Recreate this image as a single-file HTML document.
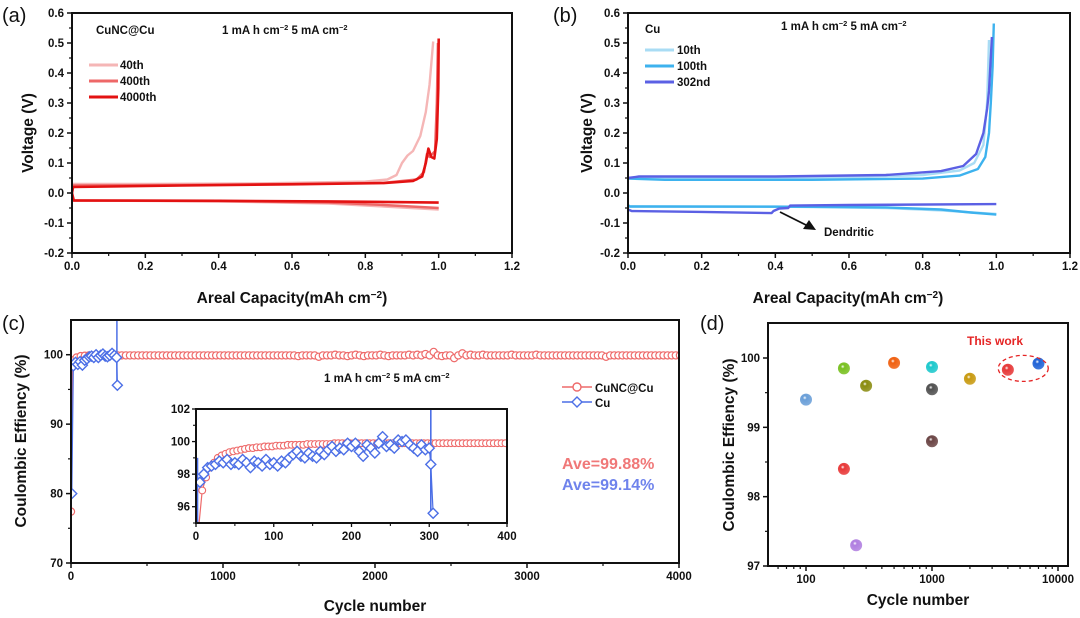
<!DOCTYPE html>
<html><head><meta charset="utf-8">
<style>
html,body{margin:0;padding:0;background:#fff;}
svg{display:block;font-family:"Liberation Sans",Arial,sans-serif;}
.t{font-weight:bold;font-size:11.5px;fill:#111;}
.ax{font-weight:bold;font-size:15.5px;fill:#111;}
.pl{font-size:20px;fill:#111;}
</style></head>
<body>
<svg id="fig" width="1080" height="618" viewBox="0 0 1080 618">
<defs id="defs"></defs>
</svg>
<script>
// ---------- data ----------
const aXTicks=[0,0.2,0.4,0.6,0.8,1.0,1.2];
const aXLabels=["0.0","0.2","0.4","0.6","0.8","1.0","1.2"];
const aYTicks=[-0.2,-0.1,0,0.1,0.2,0.3,0.4,0.5,0.6];
const aYLabels=["-0.2","-0.1","0.0","0.1","0.2","0.3","0.4","0.5","0.6"];
// panel a: CuNC@Cu  [capacity, voltage]
const a40Charge=[[0,0.03],[0.2,0.03],[0.5,0.032],[0.8,0.038],[0.86,0.045],[0.885,0.06],[0.9,0.1],[0.915,0.125],[0.93,0.14],[0.95,0.19],[0.965,0.27],[0.975,0.36],[0.985,0.505]];
const a400Charge=[[0,0.025],[0.3,0.027],[0.6,0.03],[0.85,0.034],[0.94,0.045],[0.96,0.07],[0.968,0.13],[0.975,0.12],[0.99,0.14],[0.995,0.3],[0.998,0.5]];
const a4000Charge=[[0,0],[0.003,0.02],[0.3,0.025],[0.6,0.029],[0.85,0.033],[0.93,0.04],[0.955,0.055],[0.965,0.1],[0.972,0.148],[0.98,0.12],[0.988,0.115],[0.995,0.18],[0.999,0.35],[1.0,0.515]];
const a40Dis=[[0,-0.025],[0.4,-0.028],[0.7,-0.035],[0.85,-0.045],[1.0,-0.055]];
const a400Dis=[[0,-0.025],[0.4,-0.027],[0.7,-0.032],[0.85,-0.04],[1.0,-0.05]];
const a4000Dis=[[0,0],[0.005,-0.025],[0.4,-0.026],[0.7,-0.028],[1.0,-0.032]];
// panel b: Cu
const b10Charge=[[0,0.05],[0.3,0.05],[0.6,0.052],[0.8,0.06],[0.9,0.075],[0.94,0.1],[0.965,0.16],[0.975,0.3],[0.98,0.51]];
const b100Charge=[[0,0.048],[0.1,0.044],[0.5,0.044],[0.8,0.048],[0.9,0.058],[0.95,0.08],[0.97,0.12],[0.98,0.2],[0.985,0.3],[0.99,0.42],[0.993,0.565]];
const b302Charge=[[0,0.05],[0.03,0.055],[0.4,0.055],[0.7,0.06],[0.85,0.073],[0.91,0.09],[0.945,0.13],[0.965,0.2],[0.975,0.28],[0.98,0.34],[0.988,0.52]];
const b10Dis=[[0,-0.045],[0.4,-0.045],[0.7,-0.05],[0.85,-0.058],[1.0,-0.07]];
const b100Dis=[[0,-0.04],[0.005,-0.045],[0.5,-0.046],[0.7,-0.048],[0.85,-0.055],[0.93,-0.065],[1.0,-0.072]];
const b302Dis=[[0,-0.055],[0.01,-0.06],[0.2,-0.063],[0.39,-0.067],[0.395,-0.06],[0.41,-0.052],[0.435,-0.05],[0.44,-0.042],[0.6,-0.04],[1.0,-0.037]];
// panel c: coulombic efficiency
const cXTicks=[0,1000,2000,3000,4000];
const cYTicks=[70,80,90,100];
const cnFirst=[0,77.4];
const cnStep=27;
const cnMain=[99.2,99.6,99.8,99.85,99.9,99.9,99.9,99.9,99.9,99.9,99.9,99.9,99.9,99.9,99.9,99.9,99.9,99.9,99.9,99.9,99.9,99.9,99.9,99.9,99.9,99.9,99.9,99.9,99.9,99.9,99.9,99.9,99.9,99.9,99.9,99.9,99.9,99.9,99.9,99.9,99.9,99.9,99.9,99.9,99.9,99.9,99.9,99.9,99.9,99.9,99.9,99.9,99.9,99.9,99.9,99.8,99.9,99.9,99.9,99.9,99.7,99.9,99.9,99.9,100.0,99.9,99.9,99.8,99.9,100.0,99.9,99.8,99.9,99.9,99.9,100.0,99.9,99.8,99.9,99.9,99.9,99.9,100.0,99.9,100.0,99.9,100.1,99.9,100.4,99.9,99.8,99.9,99.9,99.5,99.9,100.2,99.9,100.0,99.9,99.9,100.0,99.9,99.9,99.9,99.9,99.9,99.9,100.0,99.9,99.9,99.9,99.9,99.9,100.0,99.9,99.9,99.9,99.9,99.9,99.9,99.9,99.9,99.9,99.9,99.9,99.9,99.9,99.9,99.9,99.9,99.7,99.9,99.9,99.9,99.9,99.9,99.9,99.9,99.9,99.9,99.9,99.9,99.9,99.9,99.9,99.9,99.9,99.9,99.9,99.9,99.9];
const cuMainCycles=[5,15,30,45,60,75,90,105,120,135,150,165,180,195,210,225,240,255,270,285,300,305];
const cuMainCE=[80.0,98.4,98.9,98.6,99.0,98.5,99.2,99.4,99.7,99.8,99.6,100.0,99.6,99.9,100.1,99.8,99.7,99.9,100.2,99.9,99.6,95.6];
const inXTicks=[0,100,200,300,400];
const inYTicks=[96,98,100,102];
const inCnStep=5;
const inCn=[94.5,97.0,97.8,98.4,98.7,99.0,99.15,99.25,99.35,99.4,99.45,99.5,99.55,99.6,99.6,99.65,99.65,99.7,99.7,99.7,99.75,99.75,99.75,99.8,99.8,99.8,99.8,99.8,99.85,99.85,99.85,99.85,99.85,99.85,99.85,99.9,99.9,99.9,99.9,99.9,99.9,99.9,99.9,99.9,99.9,99.9,99.9,99.9,99.9,99.9,99.9,99.9,99.9,99.9,99.9,99.9,99.9,99.9,99.9,99.9,99.9,99.9,99.9,99.9,99.9,99.9,99.9,99.9,99.9,99.9,99.9,99.9,99.9,99.9,99.9,99.9,99.9,99.9,99.9,99.9];
const inCuCycles=[5,10,15,20,25,30,35,40,45,50,55,60,65,70,75,80,85,90,95,100,105,110,115,120,125,130,135,140,145,150,155,160,165,170,175,180,185,190,195,200,205,210,215,220,225,230,235,240,245,250,255,260,265,270,275,280,285,290,295,300,302,305];
const inCuCE=[97.5,98.0,98.4,98.5,98.6,98.8,98.7,98.9,98.6,98.7,98.6,98.9,98.7,98.4,98.8,98.7,98.5,98.9,98.6,98.7,98.5,98.8,98.7,99.0,99.2,99.4,99.1,99.0,99.3,99.1,99.0,99.4,99.2,99.5,99.7,99.4,99.6,99.5,99.9,99.7,99.9,99.4,99.1,99.8,99.6,99.3,99.9,100.3,99.7,99.8,99.6,100.1,100.0,100.1,99.8,99.6,99.4,99.8,99.5,99.6,98.6,95.6];
// panel d
const dXTicks=[100,1000,10000];
const dYTicks=[97,98,99,100];
const dCycles=[100,200,200,250,300,500,1000,1000,1000,2000,4000,7000];
const dCE=[99.4,99.85,98.4,97.3,99.6,99.93,99.87,99.55,98.8,99.7,99.83,99.92];
const dColors=["#6a9fd8","#78c020","#e83838","#b07ee0","#8a8c10","#f06010","#1cc8cc","#505050","#6a4444","#c89a10","#e63838","#1f62d6"];

// ---------- helpers ----------
const NS="http://www.w3.org/2000/svg";
const svg=document.getElementById('fig');
function mk(tag,attrs,parent){const e=document.createElementNS(NS,tag);for(const k in attrs)e.setAttribute(k,attrs[k]);(parent||svg).appendChild(e);return e;}
function lin(d0,d1,r0,r1){return v=>r0+(v-d0)*(r1-r0)/(d1-d0);}
function txt(x,y,s,cls,anchor,parent){const e=mk('text',{x:x,y:y,class:cls,'text-anchor':anchor||'start'},parent);e.textContent=s;return e;}

function frame(name,L,T,R,B,g){
  const r=mk('rect',{x:L,y:T,width:R-L,height:B-T,fill:'none',stroke:'#111','stroke-width':2},g);
  
  
}
function xTicks(g,sx,ticks,labels,B,minors,name){
  ticks.forEach((v,i)=>{
    mk('line',{x1:sx(v),x2:sx(v),y1:B,y2:B+5,stroke:'#111','stroke-width':1.5},g);
    const t=txt(sx(v),B+17,labels[i],'t','middle',g);
    
    
  });
  minors.forEach(v=>mk('line',{x1:sx(v),x2:sx(v),y1:B,y2:B+3,stroke:'#111','stroke-width':1.2},g));
}
function yTicks(g,sy,ticks,labels,L,minors,name){
  ticks.forEach((v,i)=>{
    mk('line',{x1:L-5,x2:L,y1:sy(v),y2:sy(v),stroke:'#111','stroke-width':1.5},g);
    const t=txt(L-8,sy(v)+4,labels[i],'t','end',g);
    
    
  });
  minors.forEach(v=>mk('line',{x1:L-3,x2:L,y1:sy(v),y2:sy(v),stroke:'#111','stroke-width':1.2},g));
}
function curve(g,pts,sx,sy,color,w){
  return mk('polyline',{points:pts.map(p=>sx(p[0]).toFixed(1)+','+sy(p[1]).toFixed(1)).join(' '),fill:'none',stroke:color,'stroke-width':w,'stroke-linejoin':'round'},g);
}
function ytitle(x,y,s,g){const t=mk('text',{x:0,y:0,class:'ax','text-anchor':'middle',transform:`translate(${x},${y}) rotate(-90)`},g);t.textContent=s;return t;}
function supText(x,y,parts,g,cls,anchor){ // parts: [text, sup?]
  const t=mk('text',{x:x,y:y,class:cls,'text-anchor':anchor||'start'},g);
  parts.forEach(p=>{const ts=mk('tspan',p[1]?{'font-size':'0.65em','baseline-shift':'super'}:{},t);ts.textContent=p[0];});
  return t;
}
const minorsA=[-0.15,-0.05,0.05,0.15,0.25,0.35,0.45,0.55];

// ---------- panel a ----------
(function(){
  const g=mk('g',{});
  
  
  const L=72,R=512,T=13,B=253;
  const sx=lin(0,1.2,L,R), sy=lin(-0.2,0.6,B,T);
  const cols=["#f5b6b6","#ee6868","#e31212"];
  const ws=[2.4,2.4,2.6];
  [[a40Dis,a40Charge],[a400Dis,a400Charge],[a4000Dis,a4000Charge]].forEach((pair,i)=>{
    const d=curve(g,pair[0],sx,sy,cols[i],ws[i]);
    
    
    const c=curve(g,pair[1],sx,sy,cols[i],ws[i]);
    
    
  });
  frame('panel-a',L,T,R,B,g);
  xTicks(g,sx,aXTicks,aXLabels,B,[0.1,0.3,0.5,0.7,0.9,1.1],'panel-a');
  yTicks(g,sy,aYTicks,aYLabels,L,minorsA,'panel-a');
  const yt=ytitle(33,133,'Voltage (V)',g);
  
  
  const xt=supText(292,303,[['Areal Capacity(mAh cm'],['−2',1],[')']],g,'ax','middle');
  
  
  const n=txt(96,34,'CuNC@Cu','t','start',g);
  
  
  const u=supText(222,34,[['1 mA h cm'],['−2',1],['  5 mA cm'],['−2',1]],g,'t');
  
  
  ['40th','400th','4000th'].forEach((s,i)=>{
    const y=69+i*16;
    const l=mk('line',{x1:89,x2:118,y1:y-4,y2:y-4,stroke:cols[i],'stroke-width':3},g);
    
    
    const t=txt(120,y,s,'t','start',g);
    
    
  });
  const p=txt(2,22,'(a)','pl','start',g);
  
  
})();

// ---------- panel b ----------
(function(){
  const g=mk('g',{});
  
  
  const L=628,R=1070,T=13,B=253;
  const sx=lin(0,1.2,L,R), sy=lin(-0.2,0.6,B,T);
  const cols=["#a9dcf4","#3db2ee","#5b60e4"];
  [[b10Dis,b10Charge],[b100Dis,b100Charge],[b302Dis,b302Charge]].forEach((pair,i)=>{
    const d=curve(g,pair[0],sx,sy,cols[i],2.4);
    
    
    const c=curve(g,pair[1],sx,sy,cols[i],2.4);
    
    
  });
  frame('panel-b',L,T,R,B,g);
  xTicks(g,sx,aXTicks,aXLabels,B,[0.1,0.3,0.5,0.7,0.9,1.1],'panel-b');
  yTicks(g,sy,aYTicks,aYLabels,L,minorsA,'panel-b');
  const yt=ytitle(592,133,'Voltage (V)',g);
  
  
  const xt=supText(848,303,[['Areal Capacity(mAh cm'],['−2',1],[')']],g,'ax','middle');
  
  
  const n=txt(645,33,'Cu','t','start',g);
  
  
  const u=supText(781,30,[['1 mA h cm'],['−2',1],['  5 mA cm'],['−2',1]],g,'t');
  
  
  ['10th','100th','302nd'].forEach((s,i)=>{
    const y=54+i*16;
    const l=mk('line',{x1:645,x2:674,y1:y-4,y2:y-4,stroke:cols[i],'stroke-width':3},g);
    
    
    const t=txt(677,y,s,'t','start',g);
    
    
  });
  const ar=mk('line',{x1:780,y1:212,x2:808,y2:226,stroke:'#111','stroke-width':1.8},g);
  
  
  mk('polygon',{points:'816,230 803,229 809,220',fill:'#111'},g);
  const dt=txt(824,236,'Dendritic','t','start',g);
  
  
  const p=txt(553,22,'(b)','pl','start',g);
  
  
})();

// ---------- panel c ----------
function diamond(g,x,y,s,color){return mk('polygon',{points:`${x},${y-s} ${x+s},${y} ${x},${y+s} ${x-s},${y}`,fill:'#fff',stroke:color,'stroke-width':1.4},g);}
(function(){
  const g=mk('g',{});
  
  
  const L=71,R=679,T=320,B=563;
  const sx=lin(0,4000,L,R), sy=lin(70,105,B,T);
  const red="#ee6a6a", blue="#4c6fe6";
  const clip=mk('clipPath',{id:'clipc'},document.getElementById('defs'));
  mk('rect',{x:L,y:T,width:R-L,height:B-T},clip);
  const pg=mk('g',{'clip-path':'url(#clipc)'},g);
  const cyc=[cnFirst[0]], ce=[cnFirst[1]];
  cnMain.forEach((v,i)=>{cyc.push(10+i*cnStep);ce.push(v);});
  const lc=mk('polyline',{points:cyc.map((c,i)=>sx(c)+','+sy(ce[i])).join(' '),fill:'none',stroke:red,'stroke-width':1.3},pg);
  
  
  cyc.forEach((c,i)=>{
    const m=mk('circle',{cx:sx(c),cy:sy(ce[i]),r:3.6,fill:'#fff',stroke:red,'stroke-width':1.2},pg);
    
    
  });
  const lb=mk('polyline',{points:cuMainCycles.map((c,i)=>sx(c)+','+sy(cuMainCE[i])).join(' '),fill:'none',stroke:blue,'stroke-width':1.3},pg);
  
  
  const sp=mk('line',{x1:sx(302),x2:sx(302),y1:T,y2:sy(cuMainCE[cuMainCE.length-1]),stroke:blue,'stroke-width':1.5},pg);
  
  
  cuMainCycles.forEach((c,i)=>{
    const m=diamond(pg,sx(c),sy(cuMainCE[i]),5,blue);
    
    
  });
  frame('panel-c',L,T,R,B,g);
  xTicks(g,sx,cXTicks,cXTicks.map(String),B,[500,1500,2500,3500],'panel-c');
  yTicks(g,sy,cYTicks,cYTicks.map(String),L,[75,85,95],'panel-c');
  const yt=ytitle(26,441,'Coulombic Effiency (%)',g);
  
  
  const xt=txt(375,611,'Cycle number','ax','middle',g);
  
  
  const u=supText(324,382,[['1 mA h cm'],['−2',1],['  5 mA cm'],['−2',1]],g,'t');
  
  
  const l1=mk('line',{x1:562,x2:592,y1:387,y2:387,stroke:red,'stroke-width':1.5},g);
  
  
  mk('circle',{cx:577,cy:387,r:4,fill:'#fff',stroke:red,'stroke-width':1.4},g);
  const t1=txt(595,392,'CuNC@Cu','t','start',g);
  
  
  const l2=mk('line',{x1:562,x2:592,y1:402,y2:402,stroke:blue,'stroke-width':1.5},g);
  
  
  diamond(g,577,402,5,blue);
  const t2=txt(595,407,'Cu','t','start',g);
  
  
  const a1=mk('text',{x:562,y:469,'font-size':16,'font-weight':'bold',fill:'#f07878'},g);a1.textContent='Ave=99.88%';
  
  
  const a2=mk('text',{x:562,y:490,'font-size':16,'font-weight':'bold',fill:'#6f83ec'},g);a2.textContent='Ave=99.14%';
  
  
  const p=txt(2,330,'(c)','pl','start',g);
  
  

  const ig=mk('g',{},g);
  
  
  const iL=196,iR=507,iT=409,iB=523;
  const ix=lin(0,400,iL,iR), iy=lin(95,102,iB,iT);
  mk('rect',{x:iL,y:iT,width:iR-iL,height:iB-iT,fill:'#fff'},ig);
  const clip2=mk('clipPath',{id:'clipi'},document.getElementById('defs'));
  mk('rect',{x:iL,y:iT,width:iR-iL,height:iB-iT},clip2);
  const pg2=mk('g',{'clip-path':'url(#clipi)'},ig);
  const icyc=inCn.map((v,i)=>i*inCnStep+3);
  const icl=mk('polyline',{points:[[0,90]].concat(icyc.map((c,i)=>[c,inCn[i]])).map(p=>ix(p[0])+','+iy(p[1])).join(' '),fill:'none',stroke:red,'stroke-width':1.2},pg2);
  
  
  icyc.forEach((c,i)=>{
    const m=mk('circle',{cx:ix(c),cy:iy(inCn[i]),r:3.4,fill:'#fff',stroke:red,'stroke-width':1.1},pg2);
    
    
  });
  const ibl=mk('polyline',{points:inCuCycles.map((c,i)=>ix(c)+','+iy(inCuCE[i])).join(' '),fill:'none',stroke:blue,'stroke-width':1.2},pg2);
  
  
  mk('line',{x1:ix(2),x2:ix(2),y1:iB,y2:iy(99),stroke:blue,'stroke-width':1.5},pg2);
  const isp=mk('line',{x1:ix(302),x2:ix(302),y1:iT,y2:iy(95.6),stroke:blue,'stroke-width':1.6},pg2);
  
  
  inCuCycles.forEach((c,i)=>{
    const m=diamond(pg2,ix(c),iy(inCuCE[i]),5,blue);
    
    
  });
  frame('panel-c-inset',iL,iT,iR,iB,ig);
  inXTicks.forEach(v=>{
    mk('line',{x1:ix(v),x2:ix(v),y1:iB,y2:iB+4,stroke:'#111','stroke-width':1.3},ig);
    const t=txt(ix(v),iB+17,String(v),'t','middle',ig);
    
    
  });
  [50,150,250,350].forEach(v=>mk('line',{x1:ix(v),x2:ix(v),y1:iB,y2:iB+3,stroke:'#111','stroke-width':1.1},ig));
  inYTicks.forEach(v=>{
    mk('line',{x1:iL-4,x2:iL,y1:iy(v),y2:iy(v),stroke:'#111','stroke-width':1.3},ig);
    const t=txt(iL-6,iy(v)+4,String(v),'t','end',ig);
    
    
  });
  [95,97,99,101].forEach(v=>mk('line',{x1:iL-3,x2:iL,y1:iy(v),y2:iy(v),stroke:'#111','stroke-width':1.1},ig));
})();

// ---------- panel d ----------
(function(){
  const g=mk('g',{});
  
  
  const L=768,R=1068,T=323,B=566;
  const lx=lin(2,4,806,1058);
  const sx=v=>lx(Math.log10(v));
  const sy=lin(97,100,B,358);
  const defs=document.getElementById('defs');
  frame('panel-d',L,T,R,B,g);
  const minors=[60,70,80,90,200,300,400,500,600,700,800,900,2000,3000,4000,5000,6000,7000,8000,9000];
  xTicks(g,sx,dXTicks,dXTicks.map(String),B,minors,'panel-d');
  yTicks(g,sy,dYTicks,dYTicks.map(String),L,[97.5,98.5,99.5],'panel-d');
  dCycles.forEach((c,i)=>{
    const gr=mk('radialGradient',{id:'sg'+i,cx:'0.4',cy:'0.35',r:'0.65'},defs);
    mk('stop',{offset:'0','stop-color':'#ffffff'},gr);
    mk('stop',{offset:'0.25','stop-color':dColors[i]},gr);
    mk('stop',{offset:'1','stop-color':dColors[i],'stop-opacity':'0.85'},gr);
    const m=mk('circle',{cx:sx(c),cy:sy(dCE[i]),r:6,fill:'url(#sg'+i+')'},g);
    
    
  });
  const el=mk('ellipse',{cx:sx(5300),cy:sy(99.85),rx:25,ry:13,fill:'none',stroke:'#e52525','stroke-width':1.3,'stroke-dasharray':'4,3'},g);
  
  
  const tw=mk('text',{x:995,y:345,'text-anchor':'middle','font-size':12,'font-weight':'bold',fill:'#e52525'},g);tw.textContent='This work';
  
  
  const yt=ytitle(734,445,'Coulombic Effiency (%)',g);
  
  
  const xt=txt(918,605,'Cycle number','ax','middle',g);
  
  
  const p=txt(700,330,'(d)','pl','start',g);
  
  
})();
</script>
</body></html>
